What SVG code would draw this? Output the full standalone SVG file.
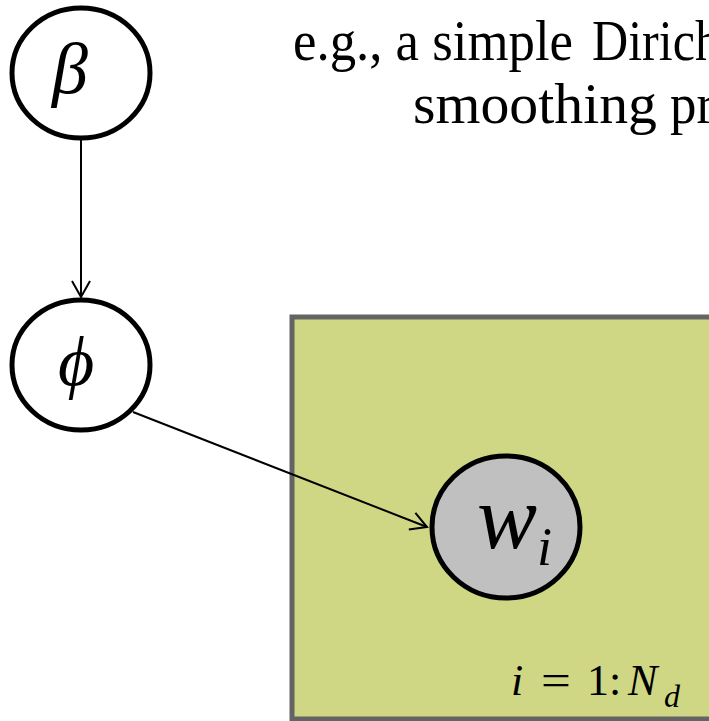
<svg xmlns="http://www.w3.org/2000/svg" width="709" height="721" viewBox="0 0 709 721">
<style>
.node{fill:#ffffff;stroke:#000000;stroke-width:5}
.obs{fill:#c0c0c0;stroke:#000000;stroke-width:5}
.edge{stroke:#000000;stroke-width:2;fill:none}
.cap{font-family:"Liberation Serif","DejaVu Serif",serif;font-size:57px;fill:#000000}
.math{font-family:"Liberation Serif","DejaVu Serif",serif;font-style:italic;fill:#000000}
.up{font-family:"Liberation Serif","DejaVu Serif",serif;fill:#000000}
</style>
<defs>
<marker id="arr" viewBox="0 0 20 20" refX="18" refY="10" markerWidth="20" markerHeight="20" markerUnits="userSpaceOnUse" orient="auto">
<path d="M2,1 L18,10 L2,19" fill="none" stroke="#000000" stroke-width="2"/>
</marker>
</defs>
<rect width="709" height="721" fill="#ffffff"/>
<g id="caption">
<text class="cap" x="293" y="60" textLength="280" lengthAdjust="spacingAndGlyphs">e.g., a simple</text>
<text class="cap" x="592" y="60" textLength="128" lengthAdjust="spacingAndGlyphs">Dirich</text>
<text class="cap" x="413" y="123" textLength="244" lengthAdjust="spacingAndGlyphs">smoothing</text>
<text class="cap" x="670" y="123" textLength="44" lengthAdjust="spacingAndGlyphs">pr</text>
</g>
<g id="plate">
<rect x="292" y="317" width="440" height="402" fill="#cfd784" stroke="#646464" stroke-width="5"/>
<text class="math" x="511" y="695" font-size="44">i</text>
<text class="up" x="541" y="695" font-size="44" textLength="30" lengthAdjust="spacingAndGlyphs">=</text>
<text class="up" x="587" y="695" font-size="44">1:</text>
<text class="math" x="628" y="695" font-size="44">N</text>
<text class="math" x="664" y="707" font-size="32">d</text>
</g>
<g id="connectors">
<line class="edge" x1="81" y1="139" x2="81" y2="297" marker-end="url(#arr)"/>
<line class="edge" x1="133" y1="412" x2="427" y2="527" marker-end="url(#arr)"/>
</g>
<g id="node-beta">
<ellipse class="node" cx="81" cy="73" rx="69" ry="65"/>
<text class="math" x="70" y="93" font-size="72" text-anchor="middle">β</text>
</g>
<g id="node-phi">
<ellipse class="node" cx="81" cy="365" rx="69" ry="65"/>
<text class="math" x="76" y="385" font-size="70" text-anchor="middle">ϕ</text>
</g>
<g id="node-w">
<ellipse class="obs" cx="506" cy="527" rx="74" ry="71"/>
<text class="math" x="477" y="548" font-size="90">w</text>
<text class="math" x="537" y="565" font-size="54">i</text>
</g>
</svg>
